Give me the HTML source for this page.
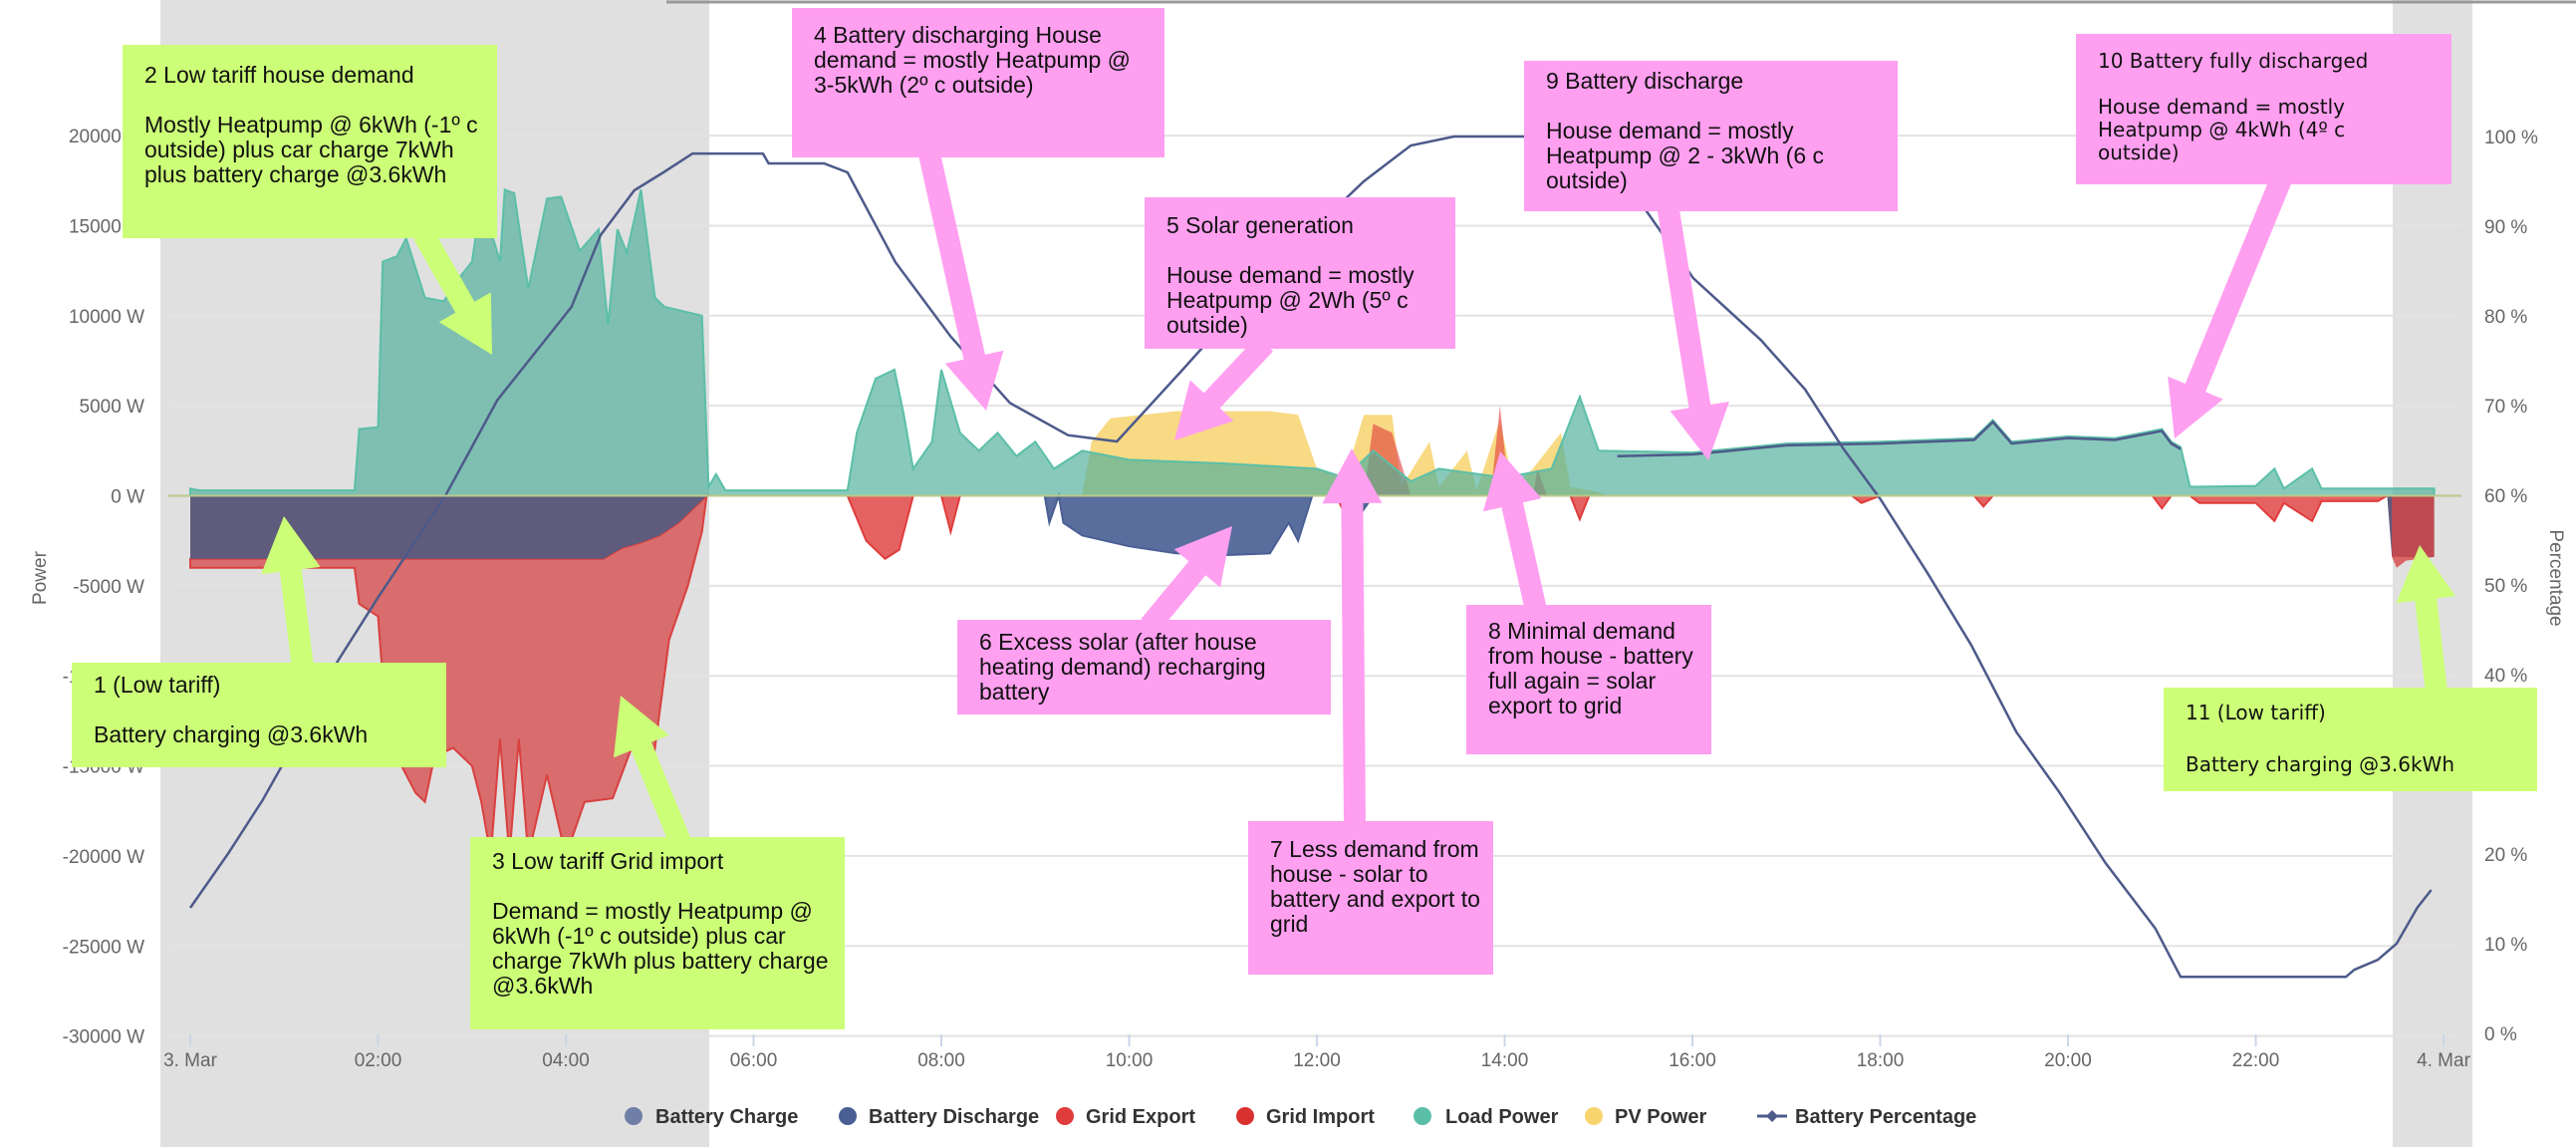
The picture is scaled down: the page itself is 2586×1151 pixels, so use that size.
<!DOCTYPE html>
<html><head><meta charset="utf-8">
<style>
body{margin:0;background:#fff;width:2586px;height:1151px;overflow:hidden;font-family:"Liberation Sans",sans-serif}
svg{position:absolute;left:0;top:0}
.box{position:absolute;font-family:"Liberation Sans",sans-serif;font-size:23px;line-height:25px;color:#111;box-sizing:border-box;padding:18px 16px 0 22px;white-space:pre-line}
.g{background:#ccff77}.p{background:#ff9ff0}
</style></head><body>
<svg id="s" width="2586" height="1151" xmlns="http://www.w3.org/2000/svg">
<rect x="161" y="0" width="551" height="1151" fill="#e0e0e0"/>
<rect x="2402" y="0" width="80" height="1151" fill="#e0e0e0"/>
<line x1="669" y1="2" x2="2586" y2="2" stroke="#999" stroke-width="3"/>
<g id="grid" stroke="#e3e3e3" stroke-width="2"></g>
<g id="areas"></g>
<g id="lbl" font-family="Liberation Sans,sans-serif" font-size="19" fill="#666"></g>
<text x="46" y="580" font-size="19" fill="#666" font-family="Liberation Sans,sans-serif" text-anchor="middle" transform="rotate(-90 46 580)">Power</text>
<text x="2560" y="580" font-size="19" fill="#666" font-family="Liberation Sans,sans-serif" text-anchor="middle" transform="rotate(90 2560 580)">Percentage</text>
<g font-family="Liberation Sans,sans-serif" font-size="20" font-weight="bold" fill="#333">
<circle cx="636" cy="1120" r="9" fill="#6f7fa6"/><text x="658" y="1127">Battery Charge</text>
<circle cx="851" cy="1120" r="9" fill="#4a5f94"/><text x="872" y="1127">Battery Discharge</text>
<circle cx="1069" cy="1120" r="9" fill="#e03c3c"/><text x="1090" y="1127">Grid Export</text>
<circle cx="1250" cy="1120" r="9" fill="#d93030"/><text x="1271" y="1127">Grid Import</text>
<circle cx="1428" cy="1120" r="9" fill="#5bbfa8"/><text x="1451" y="1127">Load Power</text>
<circle cx="1600" cy="1120" r="9" fill="#f7d46e"/><text x="1621" y="1127">PV Power</text>
<line x1="1764" y1="1120" x2="1794" y2="1120" stroke="#4d5a8a" stroke-width="3"/><path d="M1779 1114 L1785 1120 L1779 1126 L1773 1120Z" fill="#4d5a8a"/><text x="1802" y="1127">Battery Percentage</text>
</g>
<g id="arrows"></g>
</svg>
<div class="box g" style="left:123px;top:45px;width:376px;height:194px">2 Low tariff house demand

Mostly Heatpump @ 6kWh (-1º c outside) plus car charge 7kWh plus battery charge @3.6kWh</div>
<div class="box g" style="left:72px;top:665px;width:376px;height:105px;padding-top:10px">1 (Low tariff)

Battery charging @3.6kWh</div>
<div class="box g" style="left:472px;top:840px;width:376px;height:193px;padding-top:12px;padding-right:8px">3 Low tariff Grid import

Demand = mostly Heatpump @ 6kWh (-1º c outside) plus car charge 7kWh plus battery charge @3.6kWh</div>
<div class="box p" style="left:795px;top:8px;width:374px;height:150px;padding-top:15px;padding-right:8px">4 Battery discharging House demand = mostly Heatpump @ 3-5kWh (2º c outside)</div>
<div class="box p" style="left:1149px;top:198px;width:312px;height:152px;padding-top:16px">5 Solar generation

House demand = mostly Heatpump @ 2Wh (5º c outside)</div>
<div class="box p" style="left:961px;top:622px;width:375px;height:95px;padding-top:10px">6 Excess solar (after house heating demand) recharging battery</div>
<div class="box p" style="left:1253px;top:824px;width:246px;height:154px;padding-top:16px;padding-right:10px">7 Less demand from house - solar to battery and export to grid</div>
<div class="box p" style="left:1472px;top:607px;width:246px;height:150px;padding-top:14px;padding-right:10px">8 Minimal  demand from house - battery full again = solar export to grid</div>
<div class="box p" style="left:1530px;top:61px;width:375px;height:151px;padding-top:8px">9 Battery discharge

House demand = mostly Heatpump @ 2 - 3kWh (6 c outside)</div>
<div class="box p" style="left:2084px;top:34px;width:377px;height:151px;padding-top:16px;padding-right:40px;font-family:'DejaVu Sans',sans-serif;font-size:20px;line-height:23px">10 Battery fully discharged

House demand = mostly Heatpump @ 4kWh (4º c outside)</div>
<div class="box g" style="left:2172px;top:690px;width:375px;height:104px;padding-top:12px;font-family:'DejaVu Sans',sans-serif;font-size:20px;line-height:26px">11 (Low tariff)

Battery charging @3.6kWh</div>
<script>
var X=t=>191+t*94.25, Y=w=>497.5-w*0.01807, P=p=>1037-p*9;
var ns="http://www.w3.org/2000/svg";
function el(par,tag,at){var e=document.createElementNS(ns,tag);for(var k in at)e.setAttribute(k,at[k]);document.getElementById(par).appendChild(e);return e;}
for(var w=20000;w>=-30000;w-=5000){el('grid','line',{x1:169,x2:2471,y1:Y(w),y2:Y(w)});
 var t=el('lbl','text',{x:145,y:Y(w)+7,'text-anchor':'end'});t.textContent=w+' W';}
for(var p=0;p<=100;p+=10){var t=el('lbl','text',{x:2494,y:P(p)+7});t.textContent=p+' %';}
var ticks=[[0,'3. Mar'],[2,'02:00'],[4,'04:00'],[6,'06:00'],[8,'08:00'],[10,'10:00'],[12,'12:00'],[14,'14:00'],[16,'16:00'],[18,'18:00'],[20,'20:00'],[22,'22:00'],[24,'4. Mar']];
ticks.forEach(a=>{var t=el('lbl','text',{x:X(a[0]),y:1070,'text-anchor':'middle'});t.textContent=a[1];el('grid','line',{x1:X(a[0]),x2:X(a[0]),y1:1038,y2:1050,stroke:'#ccd6eb'});});
function area(d,fill,stroke){var s='M'+X(d[0][0])+' '+Y(0);d.forEach(q=>s+=' L'+X(q[0]).toFixed(1)+' '+Y(q[1]).toFixed(1));s+=' L'+X(d[d.length-1][0])+' '+Y(0)+'Z';el('areas','path',{d:s,fill:fill,stroke:stroke||'none','stroke-width':2});}
function band(up,lo,fill,stroke){var s='M';up.forEach((q,i)=>s+=(i?' L':'')+X(q[0]).toFixed(1)+' '+Y(q[1]).toFixed(1));lo.slice().reverse().forEach(q=>s+=' L'+X(q[0]).toFixed(1)+' '+Y(q[1]).toFixed(1));s+='Z';el('areas','path',{d:s,fill:fill,stroke:stroke||'none','stroke-width':2});}
var purple=[[0,-3500],[4.4,-3500],[4.6,-2900],[4.8,-2600],[5.0,-2200],[5.2,-1500],[5.5,0]];
band(purple,[[0,-4000],[1.75,-4000],[1.8,-6000],[2.0,-6700],[2.1,-13500],[2.2,-14500],[2.4,-16500],[2.5,-17000],[2.6,-14500],[2.8,-14000],[3.0,-15000],[3.1,-17000],[3.2,-20000],[3.3,-13500],[3.4,-20000],[3.5,-13500],[3.6,-20000],[3.8,-15500],[4.0,-20000],[4.2,-17000],[4.5,-16800],[4.7,-14000],[4.9,-16000],[5.1,-8000],[5.3,-5000],[5.45,-2000],[5.5,0]],'rgba(215,70,70,0.75)','#d94040');
area(purple,'#5f5b7c');
area([[23.4,0],[23.45,-3400],[23.9,-3400],[23.9,0]],'#5f5b7c');
area([[23.45,-3400],[23.5,-4000],[23.6,-3600],[23.9,-3400]],'rgba(215,70,70,0.8)');
[[[7.0,0],[7.2,-2500],[7.4,-3500],[7.55,-3000],[7.7,0]],[[8.0,0],[8.1,-2000],[8.2,0]],[[12.2,0],[12.3,-1000],[12.4,0]],[[17.7,0],[17.8,-400],[18,0]],[[19.0,0],[19.1,-600],[19.2,0]],[[20.9,0],[21.0,-700],[21.1,0]],[[21.3,0],[21.4,-400],[22.0,-400],[22.2,-1400],[22.3,-400],[22.6,-1400],[22.7,-300],[23.3,-300],[23.4,0]],[[14.7,0],[14.8,-1300],[14.9,0]]].forEach(d=>area(d,'rgba(225,70,70,0.85)','#e03c3c'));
area([[9.1,0],[9.15,-1500],[9.25,0],[9.3,-1500],[9.5,-2200],[10,-2800],[10.5,-3200],[11,-3300],[11.5,-3200],[11.7,-1500],[11.8,-2500],[11.95,0],[12.3,0],[12.4,-1500],[12.6,0]],'#5a6e9e','#4a5f94');
area([[9.5,0],[9.6,3000],[9.8,4300],[10.5,4700],[11.5,4700],[11.8,4500],[12,1500],[12.3,1000],[12.5,4500],[12.8,4500],[12.9,500],[13.2,3000],[13.3,500],[13.6,2500],[13.7,300],[13.95,4200],[14.1,500],[14.3,1500],[14.6,3500],[14.7,500],[15,200],[15.1,0]],'rgba(247,212,110,0.85)');
area([[12.5,0],[12.6,4000],[12.8,3500],[13,0],[13.85,0],[13.95,5000],[14.05,0],[14.3,0],[14.35,1500],[14.45,0]],'rgba(225,60,60,0.6)');
area([[0,400],[0.1,300],[1.75,300],[1.8,3700],[2.0,3800],[2.05,13000],[2.2,13300],[2.3,14300],[2.5,11000],[2.7,10800],[2.85,12000],[3.0,13000],[3.1,16500],[3.3,13000],[3.35,17000],[3.45,16800],[3.6,11500],[3.8,16500],[3.95,16600],[4.15,13600],[4.35,14800],[4.45,9500],[4.55,14800],[4.65,13500],[4.8,17000],[4.95,11000],[5.05,10500],[5.45,10000],[5.52,500],[5.6,1200],[5.7,300],[7.0,300],[7.1,3500],[7.3,6500],[7.5,7000],[7.6,4500],[7.7,1500],[7.9,3000],[8.0,7000],[8.2,3500],[8.4,2500],[8.6,3500],[8.8,2200],[9.0,3000],[9.2,1500],[9.5,2500],[10,2000],[11,1800],[12,1500],[12.3,1000],[12.6,2500],[13,800],[13.3,1500],[14,1000],[14.5,1500],[14.8,5500],[15,2500],[16,2400],[17,2900],[18,3000],[19,3200],[19.2,4200],[19.4,3000],[20,3300],[20.5,3200],[21,3700],[21.1,3000],[21.2,2700],[21.3,500],[22,550],[22.2,1500],[22.3,400],[22.6,1500],[22.7,400],[23.5,400],[23.9,400],[23.9,0]],'rgba(80,175,155,0.68)','#5bbfa8');
var dl=[[15.2,2200],[16,2300],[17,2800],[18,2900],[19,3100],[19.2,4100],[19.4,2900],[20,3200],[20.5,3100],[21,3600],[21.1,2900],[21.2,2600]];
var s='M';dl.forEach((q,i)=>s+=(i?' L':'')+X(q[0])+' '+Y(q[1]));el('areas','path',{d:s,fill:'none',stroke:'#4d5a8a','stroke-width':2.5});
var bp=[[0,14],[0.4,20],[0.77,26],[1.2,34],[1.57,41.5],[2,48.6],[2.72,60],[3.27,70.6],[4.06,81],[4.37,89],[4.73,94],[5.04,96],[5.35,98.1],[6.1,98.1],[6.16,97],[6.75,97],[7.0,96],[7.51,86],[8.1,77.7],[8.73,70.3],[9.35,66.7],[9.87,66],[10.57,74],[11.6,86],[12.5,95],[13,99],[13.46,100],[14.77,100],[15.2,96],[15.47,92.3],[16.01,84.2],[16.73,77.3],[17.2,71.8],[17.6,65.3],[18,59.6],[18.5,51.4],[18.97,43.3],[19.45,33.6],[19.9,27],[20.4,19],[20.93,11.7],[21.2,6.3],[22.96,6.3],[23.05,7.1],[23.3,8.2],[23.5,10],[23.72,14],[23.87,16]];
s='M';bp.forEach((q,i)=>s+=(i?' L':'')+X(q[0]).toFixed(1)+' '+P(q[1]).toFixed(1));el('areas','path',{d:s,fill:'none',stroke:'#4d5a8a','stroke-width':2.5});
el('areas','line',{x1:169,x2:2471,y1:497.5,y2:497.5,stroke:'#b9c98a','stroke-width':2});
function arrow(x1,y1,x2,y2,c){var dx=x2-x1,dy=y2-y1,L=Math.hypot(dx,dy),ux=dx/L,uy=dy/L,nx=-uy,ny=ux,w=11,hw=30,hl=55;
var bx=x2-ux*hl,by=y2-uy*hl;
var pts=[[x1+nx*w,y1+ny*w],[bx+nx*w,by+ny*w],[bx+nx*hw,by+ny*hw],[x2,y2],[bx-nx*hw,by-ny*hw],[bx-nx*w,by-ny*w],[x1-nx*w,y1-ny*w]];
el('arrows','polygon',{points:pts.map(p=>p[0].toFixed(1)+','+p[1].toFixed(1)).join(' '),fill:c});}
var G='#ccff77',K='#ff9ff0';
arrow(425,235,494,356,G);arrow(304,670,285,518,G);arrow(683,845,623,698,G);
arrow(932,150,990,412,K);arrow(1270,345,1179,442,K);arrow(1154,628,1237,528,K);arrow(1360,830,1357,450,K);
arrow(1542,612,1506,453,K);arrow(1674,205,1715,462,K);arrow(2290,180,2183,440,K);arrow(2446,695,2429,547,G);
</script>
</body></html>
